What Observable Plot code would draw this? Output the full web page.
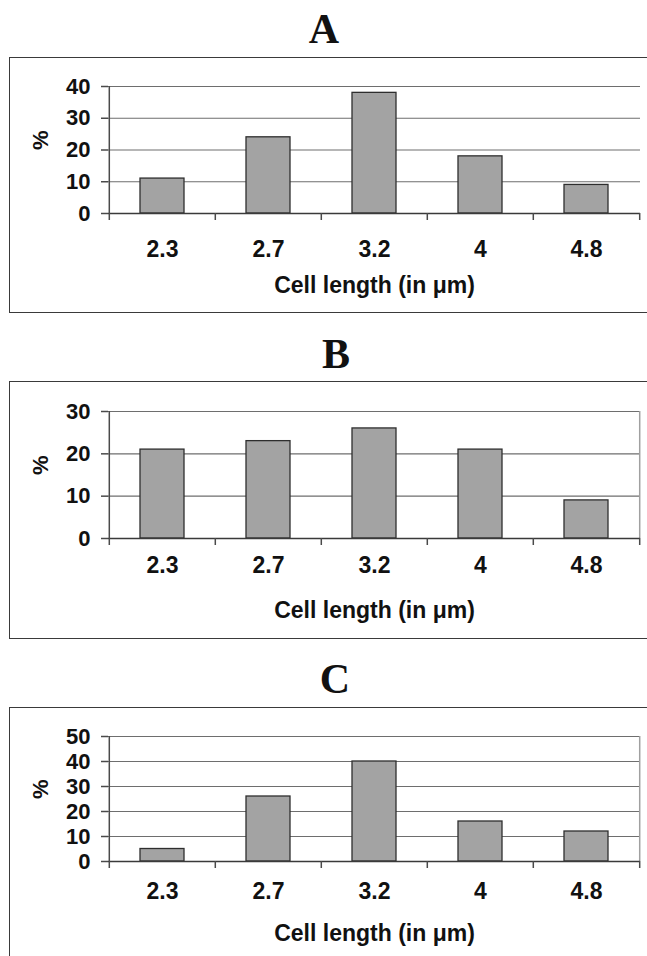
<!DOCTYPE html>
<html>
<head>
<meta charset="utf-8">
<script src="https://cdn.jsdelivr.net/npm/d3@7"></script>
<script src="https://cdn.jsdelivr.net/npm/@observablehq/plot@0.6"></script>
<style>
  html, body { margin: 0; padding: 0; background: #fff; }
  #page { position: relative; width: 647px; height: 956px; overflow: hidden; background: #fff; }
  .title { position: absolute; font-family: "Liberation Serif", "Times New Roman", serif; font-weight: bold; font-size: 42px; line-height: 42px; color: #111; transform: translateX(-50%); white-space: nowrap; }
  .box { position: absolute; border: 1.5px solid #3a3a3a; box-sizing: border-box; }
  .chart { position: absolute; }
</style>
</head>
<body>
<div id="page"></div>
<script>
// ---- data ----
const categories = ["2.3", "2.7", "3.2", "4", "4.8"];
const valuesA = [11, 24, 38, 18, 9];
const valuesB = [21, 23, 26, 21, 9];
const valuesC = [5, 26, 40, 16, 12];
const yTicksA = [0, 10, 20, 30, 40];
const yTicksB = [0, 10, 20, 30];
const yTicksC = [0, 10, 20, 30, 40, 50];
const panelTitles = ["A", "B", "C"];
const xLabel = "Cell length (in \u03bcm)";
const yLabel = "%";

// ---- layout ----
const panels = [
  {title: panelTitles[0], values: valuesA, ticks: yTicksA, titleX: 324, titleTop: 8,
   boxTop: 57, boxHeight: 256, marginTop: 29, marginBottom: 100, tickPad: 27, rightBorder: false},
  {title: panelTitles[1], values: valuesB, ticks: yTicksB, titleX: 336, titleTop: 333,
   boxTop: 381, boxHeight: 258, marginTop: 30, marginBottom: 101, tickPad: 18, rightBorder: true},
  {title: panelTitles[2], values: valuesC, ticks: yTicksC, titleX: 335, titleTop: 658,
   boxTop: 707, boxHeight: 270, marginTop: 29, marginBottom: 97, tickPad: 21, rightBorder: true}
];

const page = document.getElementById("page");
const svgLeft = 10, svgWidth = 637, marginLeft = 98, marginRight = 7;
const step = (svgWidth - marginLeft - marginRight) / categories.length;
const font = "'Liberation Sans', Arial, Helvetica, sans-serif";

for (const p of panels) {
  const t = document.createElement("div");
  t.className = "title";
  t.textContent = p.title;
  t.style.left = p.titleX + "px";
  t.style.top = p.titleTop + "px";
  page.appendChild(t);

  const box = document.createElement("div");
  box.className = "box";
  box.style.left = "9px";
  box.style.top = p.boxTop + "px";
  box.style.width = "660px";
  box.style.height = p.boxHeight + "px";
  page.appendChild(box);

  const data = categories.map((c, i) => ({cat: c, value: p.values[i]}));
  const ymax = p.ticks[p.ticks.length - 1];
  const h = p.boxTop + p.boxHeight > 956 ? 956 - p.boxTop + 2 : p.boxHeight;

  const marks = [
    Plot.gridY(p.ticks, {stroke: "#6e6e6e", strokeOpacity: 1, strokeWidth: 1.2}),
    p.rightBorder ? Plot.ruleX([categories[categories.length - 1]], {dx: step / 2, stroke: "#a0a0a0", strokeWidth: 1.5}) : null,
    Plot.barY(data, {x: "cat", y: "value", fill: "#a3a3a3", stroke: "#2e2e2e", strokeWidth: 1.3}),
    Plot.ruleY([0], {stroke: "#3a3a3a", strokeWidth: 1.5}),
    Plot.ruleX([categories[0]], {dx: -step / 2, stroke: "#4a4a4a", strokeWidth: 1.5}),
    Plot.axisY(p.ticks, {label: null, tickSize: 7, tickPadding: 11, stroke: "#4a4a4a", strokeWidth: 1.5, fontSize: 22, fontWeight: "bold", fill: "#111", tickFormat: d => String(d)}),
    Plot.axisX(categories, {label: null, tickSize: 7, tickFormat: () => "", dx: -step / 2, stroke: "#4a4a4a", strokeWidth: 1.5}),
    Plot.axisX([categories[categories.length - 1]], {label: null, tickSize: 7, tickFormat: () => "", dx: step / 2, stroke: "#4a4a4a", strokeWidth: 1.5}),
    Plot.axisX(categories, {label: null, tickSize: 0, tickPadding: p.tickPad, fontSize: 23, fontWeight: "bold", fill: "#111"}),
    Plot.text([xLabel], {text: d => d, frameAnchor: "bottom", dy: 79, fontSize: 23, fontWeight: "bold", fill: "#111"}),
    Plot.text([yLabel], {text: d => d, frameAnchor: "left", dx: -68, rotate: -90, fontSize: 22, fontWeight: "bold", fill: "#111"})
  ].filter(Boolean);

  const chart = Plot.plot({
    width: svgWidth,
    height: h,
    marginLeft, marginRight,
    marginTop: p.marginTop,
    marginBottom: p.marginBottom,
    style: {fontFamily: font, fontWeight: "bold", color: "#111", background: "transparent", overflow: "visible"},
    x: {type: "band", domain: categories, paddingInner: 0.586, paddingOuter: 0.293, axis: null},
    y: {domain: [0, ymax], axis: null},
    marks
  });
  chart.classList.add("chart");
  chart.style.left = svgLeft + "px";
  chart.style.top = p.boxTop + "px";
  page.appendChild(chart);
}
</script>
</body>
</html>
